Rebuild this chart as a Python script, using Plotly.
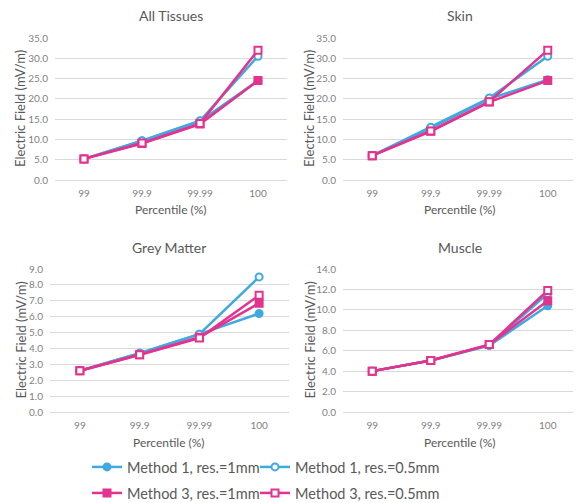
import plotly.graph_objects as go

percentiles = ["99", "99.9", "99.99", "100"]
series_names = ["Method 1, res.=1mm", "Method 1, res.=0.5mm",
                "Method 3, res.=1mm", "Method 3, res.=0.5mm"]

panel_titles = ["All Tissues", "Skin", "Grey Matter", "Muscle"]

all_tissues = [
    [5.2, 9.6, 14.5, 24.5],
    [5.2, 9.7, 14.6, 30.5],
    [5.2, 9.0, 13.8, 24.5],
    [5.2, 9.1, 13.9, 32.0],
]
skin = [
    [6.0, 12.8, 20.0, 24.7],
    [6.0, 13.0, 20.2, 30.5],
    [6.0, 12.0, 19.2, 24.5],
    [6.0, 12.1, 19.3, 32.0],
]
grey_matter = [
    [2.6, 3.7, 4.9, 6.2],
    [2.6, 3.7, 4.9, 8.5],
    [2.6, 3.6, 4.7, 6.85],
    [2.6, 3.6, 4.65, 7.35],
]
muscle = [
    [4.0, 5.05, 6.5, 10.4],
    [4.0, 5.05, 6.55, 11.6],
    [4.0, 5.05, 6.6, 10.9],
    [4.0, 5.05, 6.6, 11.9],
]
panels = [all_tissues, skin, grey_matter, muscle]
y_ranges = [(0, 35, 5), (0, 35, 5), (0, 9, 1), (0, 14, 2)]

BLUE = "#3FA9E0"
PINK = "#E3338F"
styles = [
    dict(color=BLUE, symbol="circle", fill=BLUE),
    dict(color=BLUE, symbol="circle", fill="white"),
    dict(color=PINK, symbol="square", fill=PINK),
    dict(color=PINK, symbol="square", fill="white"),
]
legend_ids = ["legend", "legend2", "legend3", "legend4"]
# legend anchor positions (viewport px): column x, row y
legend_pos = [(87, 467), (255, 467), (87, 493), (255, 493)]

OFF = 8
W, H = 581 - OFF, 503 - OFF


def px(x):
    return (x - OFF) / W


def py(y):
    return 1 - (y - OFF) / H


# viewport pixel boxes: (x0, x1, ytop, ybottom)
boxes = [(55, 287, 38, 180), (343, 577, 38, 180),
         (50, 289, 269, 412), (343, 577, 269, 412)]

FONT = "Lato"
GRAY = "#595959"
TICK = "#7F7F7F"

fig = go.Figure()
layout = {}
annotations = []
for i, (data, box) in enumerate(zip(panels, boxes)):
    ax = "" if i == 0 else str(i + 1)
    x0, x1, yt, yb = box
    for j, vals in enumerate(data):
        st = styles[j]
        fig.add_trace(go.Scatter(
            x=percentiles, y=vals, mode="lines+markers",
            name=series_names[j], legendgroup=series_names[j],
            legend=legend_ids[j],
            showlegend=(i == 0),
            line=dict(color=st["color"], width=2.5),
            marker=dict(symbol=st["symbol"], size=7, color=st["fill"],
                        line=dict(color=st["color"], width=2)),
            xaxis="x" + ax, yaxis="y" + ax,
        ))
    r0, r1, dt = y_ranges[i]
    layout["xaxis" + ax] = dict(
        domain=[px(x0), px(x1)], anchor="y" + ax, type="category",
        range=[-0.5, 3.5], showgrid=False, showline=False, ticks="",
        tickfont=dict(family=FONT, size=10, color=TICK),
        ticklabelstandoff=6, fixedrange=True, automargin=False,
    )
    layout["yaxis" + ax] = dict(
        domain=[py(yb), py(yt)], anchor="x" + ax,
        range=[r0, r1], dtick=dt, tick0=0, tickformat=".1f",
        showgrid=True, gridcolor="#D9D9D9", gridwidth=1,
        zeroline=True, zerolinecolor="#D9D9D9", zerolinewidth=1,
        showline=False, ticks="",
        tickfont=dict(family=FONT, size=10, color=TICK),
        ticklabelstandoff=6, fixedrange=True, automargin=False,
    )
    cx = px((x0 + x1) / 2)
    annotations.append(dict(text=panel_titles[i], x=cx,
                            y=py(yt - 22), xref="paper", yref="paper",
                            showarrow=False, xanchor="center", yanchor="middle",
                            font=dict(family=FONT, size=14, color=GRAY)))
    annotations.append(dict(text="Percentile (%)", x=cx,
                            y=py(yb + 30), xref="paper", yref="paper",
                            showarrow=False, xanchor="center", yanchor="middle",
                            font=dict(family=FONT, size=12, color=GRAY)))
    annotations.append(dict(text="Electric Field (mV/m)",
                            x=px(20 if i % 2 == 0 else 309),
                            y=py((yt + yb) / 2), xref="paper", yref="paper",
                            showarrow=False, xanchor="center", yanchor="middle",
                            textangle=-90,
                            font=dict(family=FONT, size=13, color=GRAY)))

legend_common = dict(orientation="h", xanchor="left", yanchor="middle",
                     font=dict(family=FONT, size=14.5, color=GRAY),
                     tracegroupgap=0, itemwidth=30,
                     bgcolor="rgba(0,0,0,0)")
legends = {}
for lid, (lx, ly) in zip(legend_ids, legend_pos):
    legends[lid] = dict(x=px(lx), y=py(ly), **legend_common)

fig.update_layout(
    width=W, height=H,
    margin=dict(l=0, r=0, t=0, b=0, autoexpand=False),
    paper_bgcolor="white", plot_bgcolor="white",
    annotations=annotations,
    **legends,
    **layout,
)

fig.write_html("out.html")
